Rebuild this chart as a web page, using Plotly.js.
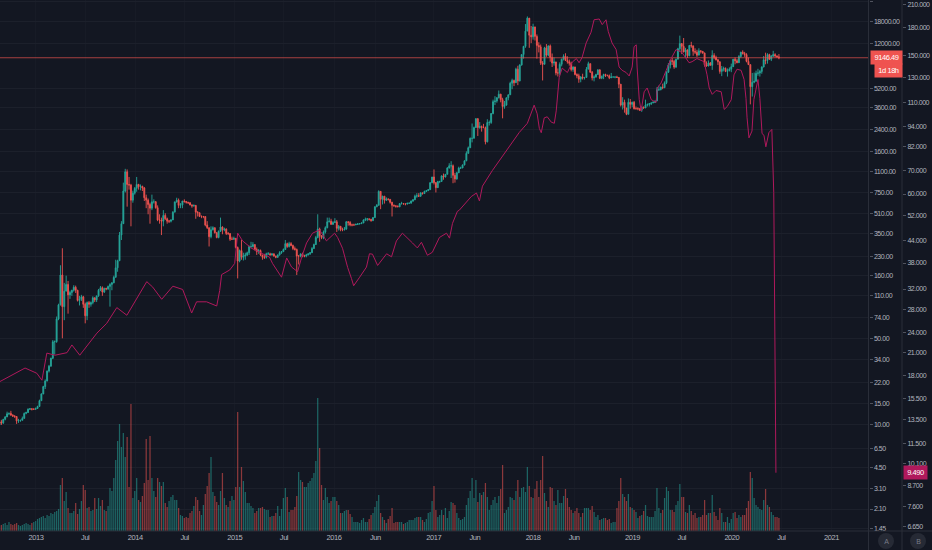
<!DOCTYPE html>
<html><head><meta charset="utf-8">
<script src="https://cdn.plot.ly/plotly-3.0.1.min.js"></script>
<style>
html,body{margin:0;padding:0;background:#131722;}
#chart{width:932px;height:550px;}
#chart .ytick text, #chart .y2tick text, #chart .y3tick text, #chart .xtick text, #chart .annotation text{letter-spacing:-0.45px;}
</style>
</head><body><div id="chart"></div>
<script>
// ---------- DATA (weekly BTC candles) ----------
const firstWeekUTC = Date.UTC(2012, 7, 20); // Monday 2012-08-20
const firstOpen = 10.0;

const closes = [
// 2012
10.6,10.4,11.1,11.6,12.3,12.4,12.0,11.8,11.7,10.8,10.9,10.9,11.3,12.4,12.6,13.4,13.5,13.4,13.4,13.6,
// 2013
14.1,15.7,17.8,20.4,22.6,27.2,29.8,34.5,46.9,47.0,71.5,93.0,162,90,120,136,112,117,122,129,
122,101,103,108,94,76,97,94,97,106,102,110,122,128,118,126,125,131,136,140,
155,185,211,340,420,770,1100,870,860,650,740,810,
// 2014
870,835,840,815,680,650,600,560,630,630,565,450,450,440,490,460,440,440,450,520,
630,650,590,595,640,635,625,620,595,585,590,520,515,480,480,480,410,390,330,375,
390,355,325,365,395,375,380,350,350,315,315,320,
// 2015
270,210,255,225,230,235,245,275,275,285,260,250,255,235,225,225,240,240,235,240,
230,225,235,245,250,260,290,275,290,280,265,260,230,230,240,230,230,235,240,245,
265,285,325,380,335,325,360,390,435,440,415,430,
// 2016
435,385,400,375,375,380,435,430,410,410,410,415,418,420,425,450,455,460,455,445,
470,575,590,765,660,700,650,665,660,625,590,585,580,575,610,610,605,605,615,615,
640,655,700,705,700,745,735,765,775,790,900,1000,
// 2017
900,820,920,920,1020,1000,1050,1180,1230,1230,1030,965,1080,1180,1180,1250,1350,1550,1720,2050,
2050,2500,2950,2500,2550,2500,2500,1920,2750,2750,3250,4050,4100,4350,4650,4200,3700,3800,4350,4600,
5700,6000,5750,7400,5950,8000,9700,11300,15000,19100,13900,13500,
// 2018
16200,13600,11500,11200,8300,8100,11000,9600,11400,9200,8300,8450,6900,6900,8100,8900,9400,8700,8500,8250,
7350,7700,6700,6550,6150,6400,6300,6350,7400,8200,7000,6300,6400,6700,7300,6250,6500,6700,6600,6550,
6300,6400,6400,6400,6350,5600,3800,4000,3600,3200,4000,3850,4000,
// 2019
3550,3550,3550,3450,3650,3600,3800,3850,3900,3950,3980,4100,5050,5050,5300,5250,5750,7000,8000,8700,
8550,7700,8900,10800,11900,11300,10200,10600,9500,11500,11400,10300,10150,9600,10400,10300,10000,8050,7850,8300,
7950,9550,9200,8800,8500,7100,7400,7500,7100,7200,7400,7750,
// 2020
8900,8650,8350,9350,10150,9900,9700,8550,8050,5350,5800,5900,6850,6900,7100,7700,8800,8700,9700,8900,
9450,9700,9450,9300,9146.49
];

const highs = [
// 2012
11.0,11.0,11.2,11.8,12.8,12.6,13.0,12.2,12.0,11.8,11.2,11.0,11.7,12.6,12.8,13.6,13.7,13.6,13.6,13.8,
// 2013
14.3,16.0,18.0,20.7,23.3,27.5,30.5,34.9,48.4,48.0,74.9,95.0,194,266,140,160,145,121,123,134,
133,123,110,112,110,97,99,100,99,109,107,110,125,132,131,128,128,133,139,142,
160,215,215,360,440,900,1163,1150,1000,880,775,830,
// 2014
1000,880,870,850,830,720,670,620,720,660,640,590,500,470,540,510,470,450,455,530,
630,680,670,615,640,660,640,630,625,600,600,590,530,515,490,485,480,440,390,400,
400,390,360,370,470,400,390,385,360,350,330,330,
// 2015
300,275,260,310,245,245,250,280,300,298,285,270,262,260,235,240,245,248,245,242,
241,232,237,252,251,265,310,295,300,298,285,275,265,235,240,245,236,240,242,248,
272,290,335,500,390,340,370,400,470,470,460,440,
// 2016
465,450,410,400,390,395,440,440,440,420,420,420,425,425,430,455,470,465,460,460,
475,580,605,780,770,705,700,685,670,660,630,600,590,590,615,630,615,610,615,620,
645,660,720,740,740,750,745,775,780,795,905,1000,
// 2017
1150,910,930,930,1030,1065,1055,1200,1290,1340,1260,1080,1100,1210,1210,1260,1360,1610,1760,2080,
2700,2550,2980,2980,2770,2600,2680,2550,2920,2850,3280,4200,4480,4400,4980,4680,4350,4100,4380,4620,
5860,6200,6100,7600,7880,8100,9750,11400,17100,19700,19000,16500,
// 2018
17200,16300,14100,12200,11700,8600,11200,11800,11500,11700,9900,9200,8500,7500,8400,9000,9750,9950,9400,8850,
8500,7800,7750,6850,6800,6500,6800,6400,7700,8500,8200,7150,6600,6800,7400,7400,6550,6800,6800,6680,
6700,6900,6450,6450,6550,6400,5600,4400,4200,3600,4300,4250,4050,
// 2019
4100,3700,3650,3600,3700,3700,4200,3900,3950,4000,4100,4150,5300,5450,5350,5650,5900,7100,8300,8800,
9100,8800,9000,11000,13800,12000,13200,11000,10600,11600,12300,11500,10900,10600,10900,10500,10350,10050,8550,8700,
8450,10500,9950,9500,8950,8400,7850,7750,7650,7500,7650,8200,
// 2020
8950,9200,8950,9600,10200,10500,10200,9950,9200,8100,6900,6950,7200,7450,7300,7800,9450,10050,9950,9850,
9600,10400,9950,9550,9800
];

const lows = [
// 2012
9.8,10.0,10.2,10.9,11.6,12.0,11.9,11.6,11.4,10.2,10.4,10.6,10.9,11.3,12.2,12.5,13.2,13.1,13.2,13.2,
// 2013
13.5,14.0,15.6,17.7,19.5,22.5,26.5,29.5,34.0,37.0,46.0,70.0,92,50,70,120,79,104,110,119,
116,99,92,100,88,66,70,88,90,94,98,98,108,120,110,116,122,123,90,122,
139,155,172,210,310,420,750,576,790,400,620,720,
// 2014
760,790,780,770,640,560,500,420,540,610,555,440,420,340,400,450,420,425,430,450,
520,620,560,560,560,620,610,605,590,565,575,460,480,475,465,465,400,380,275,320,
370,350,320,320,360,345,365,340,340,305,310,310,
// 2015
265,152,205,215,212,215,230,235,265,270,255,235,240,230,215,218,220,235,232,232,
228,221,222,232,240,248,258,268,270,276,257,255,162,197,225,225,225,225,233,235,
244,262,283,320,300,315,315,350,385,430,410,410,
// 2016
425,360,370,365,365,370,375,405,400,400,405,410,410,415,420,425,440,440,445,435,
440,470,570,590,550,600,610,640,645,610,480,575,565,570,570,600,600,590,600,605,
610,630,650,680,690,690,720,730,755,770,790,890,
// 2017
870,750,815,890,915,950,990,1050,1170,980,890,900,950,1080,1160,1180,1240,1340,1540,1720,
1900,2060,2480,2140,2450,2320,2480,1830,1900,2600,2680,3200,3800,3970,4300,4000,2970,3550,3750,4150,
4600,5100,5400,6100,5500,5900,7900,9000,11000,15000,11000,12000,
// 2018
12800,12600,9000,10100,8000,6000,8100,9300,9400,8500,7700,7900,6600,6450,6600,7800,8700,8600,8200,7900,
7100,7050,6600,6250,5750,5800,6100,6100,6300,7400,6900,6000,5900,6300,6650,6150,6150,6150,6400,6500,
6150,6300,6350,6250,6300,5200,3700,3500,3300,3150,3200,3550,3650,
// 2019
3500,3500,3450,3400,3350,3550,3600,3700,3700,3800,3950,3950,4100,4950,5000,5100,5200,5600,6900,7500,
8000,7450,7550,8900,10300,9800,10100,9100,9100,9400,11000,9500,9800,9300,9600,9900,9850,7750,7750,7800,
7900,7300,8900,8700,8000,6800,6500,7100,7000,6450,7100,7000,
// 2020
7700,8100,8250,8300,9150,9700,9300,8400,8000,3850,4450,5700,5900,6550,6450,6800,7650,8100,8200,8800,
8600,9250,9200,9150,8900
];

const volumes = [
5,6,7,8,6,9,7,6,7,8,6,5,6,7,8,7,6,8,9,10,
12,13,14,15,13,16,15,18,17,19,20,22,
46,53,30,39,23,18,18,20,28,17,22,30,46,41,23,24,20,21,33,22,33,25,31,21,20,25,
43,40,53,71,90,107,84,98,74,94,44,127,33,40,53,31,29,35,48,92,51,95,
53,40,34,53,49,45,49,28,24,30,34,36,31,31,23,16,15,13,14,13,
18,20,25,34,31,20,16,26,37,45,58,74,39,35,29,26,40,58,33,26,24,30,35,31,
44,119,44,64,50,39,28,28,25,23,18,20,23,23,24,22,21,21,14,15,15,18,25,15,22,33,43,34,19,21,21,24,35,59,
51,49,44,44,48,50,53,58,70,133,83,
46,31,43,34,28,30,34,34,30,26,18,18,20,21,21,17,14,9,9,9,8,11,13,9,9,12,16,18,24,30,
36,18,14,11,8,12,15,23,8,9,9,9,9,7,8,9,11,11,11,13,14,14,14,11,9,12,18,19,30,
45,21,14,16,21,16,23,13,20,29,28,26,18,13,11,12,14,26,33,40,53,33,51,29,38,36,39,48,34,21,
26,31,34,28,35,42,66,18,21,24,34,33,31,40,51,34,43,44,39,64,45,34,
33,42,50,34,51,75,38,30,24,44,43,30,26,41,28,28,35,42,33,24,21,18,20,23,18,14,18,23,23,23,
21,25,19,14,16,11,12,13,13,11,12,8,9,9,23,30,53,37,34,30,37,24,23,
21,19,13,15,16,20,26,15,14,14,14,20,43,23,18,21,33,44,40,21,21,19,26,30,47,34,34,19,18,26,
20,16,18,13,14,14,16,31,16,18,18,36,19,15,11,23,18,9,9,14,8,12,
18,19,13,16,14,16,16,23,30,59,53,33,26,24,22,21,31,42,26,24,19,16,14,14,13
];

// second symbol (axis B)
const lineDates = [
'2012-08-13','2012-11-22','2013-01-04','2013-01-23','2013-02-10','2013-03-12','2013-04-25','2013-05-13','2013-06-11','2013-07-11',
'2013-08-13','2013-09-18','2013-10-25','2013-12-01','2014-01-06','2014-02-12','2014-03-06','2014-04-08','2014-05-19','2014-06-24',
'2014-07-27','2014-08-14','2014-09-20','2014-10-27','2014-11-07','2014-11-14','2014-12-14','2015-01-01','2015-01-12','2015-01-30',
'2015-03-04','2015-05-09','2015-05-20','2015-06-22','2015-07-11','2015-07-29','2015-08-20','2015-09-04','2015-09-22','2015-10-14',
'2015-11-09','2015-12-04','2016-01-03','2016-01-14','2016-02-01','2016-02-09','2016-02-20','2016-03-05','2016-03-13','2016-04-04',
'2016-04-29','2016-05-10','2016-05-21','2016-06-09','2016-07-12','2016-07-30','2016-08-17','2016-09-08','2016-09-26','2016-10-15',
'2016-11-02','2016-11-17','2016-12-09','2016-12-27','2017-01-22','2017-02-17','2017-02-28','2017-03-11','2017-03-29','2017-04-05',
'2017-05-19','2017-06-07','2017-06-18','2017-06-29','2017-08-04','2017-09-10','2017-10-13','2017-11-11','2017-12-11','2017-12-25',
'2018-01-05','2018-01-16','2018-01-24','2018-01-31','2018-02-11','2018-02-22','2018-03-09','2018-03-20','2018-03-27','2018-04-07',
'2018-04-18','2018-05-07','2018-05-25','2018-06-09','2018-06-19','2018-06-30','2018-07-15','2018-08-02','2018-08-13','2018-09-01',
'2018-09-12','2018-09-26','2018-10-04','2018-10-18','2018-11-02','2018-11-13','2018-11-24','2018-12-09','2018-12-20','2018-12-31',
'2019-01-07','2019-01-15','2019-01-18','2019-01-26','2019-02-02','2019-02-13','2019-02-24','2019-03-11','2019-03-29','2019-04-02',
'2019-04-16','2019-05-05','2019-05-23','2019-06-10','2019-07-02','2019-07-28','2019-08-08','2019-08-26','2019-09-21','2019-10-02',
'2019-10-10','2019-10-21','2019-11-04','2019-11-23','2019-11-27','2019-12-04','2019-12-15','2019-12-30','2020-01-09','2020-01-20',
'2020-02-04','2020-02-15','2020-02-22','2020-02-26','2020-03-04','2020-03-15','2020-03-22','2020-03-30','2020-04-06','2020-04-13',
'2020-04-21','2020-04-28','2020-05-05','2020-05-16','2020-05-27','2020-06-03','2020-06-11'
];
const lineValues = [
17200,18970,18330,17500,20940,20650,21000,22100,20650,22100,
23900,25500,28300,26900,29900,33600,32400,29900,32600,31900,
27300,29400,29400,28600,31700,35200,36300,37900,46300,44000,
41900,39500,37900,34600,39300,37000,35900,39500,43400,46300,
47300,44000,46300,45000,41900,39500,36900,34300,32700,34600,
37000,40400,40300,37400,40400,39600,44000,46300,45000,43400,
42000,43600,40000,40800,45000,46300,44800,49400,53500,53900,
59000,60400,57300,63200,70000,77000,83600,90100,95800,102000,
108000,102000,92600,90000,99300,100000,96500,95800,104000,130000,
138000,134000,143600,147000,143000,148000,163000,175000,190000,191000,
184000,190000,176000,163000,156000,139000,136000,134000,131000,139000,
159000,161000,139000,112000,104000,118000,121000,112000,110000,121000,
125000,136000,147000,156000,153000,143000,144000,147000,144000,132000,
121000,116000,119000,118000,112000,105000,107000,112000,132000,137000,
136000,128000,113000,99300,87000,91000,112000,122000,128000,113000,
89500,88500,82000,90000,92000,60500,9490
];

const xTickDates = ['2013-01-01','2013-07-01','2014-01-01','2014-07-01','2015-01-01','2015-07-01','2016-01-01','2016-06-01',
  '2017-01-01','2017-06-01','2018-01-01','2018-06-01','2019-01-01','2019-07-01','2020-01-01','2020-07-01','2021-01-01'];
const xTickLabels = ['2013','Jul','2014','Jul','2015','Jul','2016','Jun','2017','Jun','2018','Jun','2019','Jul','2020','Jul','2021'];
const priceTicks = [1.45,2.1,3.1,4.5,6.5,10,15,22,34,50,74,110,160,230,350,510,750,1100,1600,2400,3600,5200,12000,18000,26000];
const indexTicks = [6650,7600,8700,10100,11500,13500,15500,18000,21000,24000,28000,32000,38000,44000,52000,60000,70000,82000,94000,110000,130000,150000,180000,210000];
const indexTickLabels = ['6.650','7.600','8.700','10.100','11.500','13.500','15.500','18.000','21.000','24.000','28.000','32.000','38.000','44.000','52.000','60.000','70.000','82.000','94.000','110.000','130.000','150.000','180.000','210.000'];
const countdownText = '1d 18h';
const xRange = ['2012-08-22','2021-05-17'];

// ---------- BUILD ----------
const dates = closes.map((_, i) => new Date(firstWeekUTC + i * 7 * 86400000).toISOString().slice(0, 10));
const opens = closes.map((c, i) => i === 0 ? firstOpen : closes[i - 1]);
const hi = highs.map((h, i) => Math.max(h, opens[i], closes[i]));
const lo = lows.map((l, i) => Math.min(l, opens[i], closes[i]));
const volColors = closes.map((c, i) => c >= opens[i] ? 'rgba(38,166,154,0.55)' : 'rgba(239,83,80,0.55)');
const lastPrice = closes[closes.length - 1];
const lastIndex = lineValues[lineValues.length - 1];

const FONT = 'Liberation Sans, Arial, sans-serif';
const TXT = '#b2b5be';
const SEP = '#2a2e39';
const W = 932, H = 550, PH = 531;
const xEnd = 868.5 / W;
const xB = 902 / W;

const traces = [
  { type: 'bar', x: dates, y: volumes, xaxis: 'x', yaxis: 'y',
    marker: { color: volColors, line: { width: 0 } }, width: 4.6 * 86400000, hoverinfo: 'skip' },
  { type: 'candlestick', x: dates, open: opens, high: hi, low: lo, close: closes, xaxis: 'x', yaxis: 'y2',
    increasing: { line: { color: '#26a69a', width: 0.9 }, fillcolor: '#26a69a' },
    decreasing: { line: { color: '#ef5350', width: 0.9 }, fillcolor: '#ef5350' },
    whiskerwidth: 0, hoverinfo: 'skip' },
  { type: 'scatter', mode: 'lines', x: xRange, y: [lastPrice, lastPrice], xaxis: 'x', yaxis: 'y2',
    line: { color: '#ef5350', width: 0.8 }, opacity: 0.85, hoverinfo: 'skip' },
  { type: 'scatter', mode: 'lines', x: lineDates, y: lineValues, xaxis: 'x', yaxis: 'y3',
    line: { color: '#b0195c', width: 1, shape: 'linear' }, hoverinfo: 'skip' }
];

const layout = {
  width: W, height: H,
  margin: { l: 0, r: 0, t: 0, b: H - PH, pad: 0 },
  paper_bgcolor: '#131722', plot_bgcolor: '#131722',
  showlegend: false, hovermode: false, boxgap: 0.3,
  font: { family: FONT, size: 7, color: TXT },
  xaxis: { type: 'date', domain: [0, xEnd], range: xRange, rangeslider: { visible: false },
    tickmode: 'array', tickvals: xTickDates, ticktext: xTickLabels, ticks: '',
    showgrid: true, gridcolor: '#171b26', gridwidth: 1, zeroline: false, showline: false,
    tickfont: { family: FONT, size: 7.5, color: TXT } },
  yaxis: { domain: [0, 1], range: [0, PH], visible: false, showgrid: false, zeroline: false },
  yaxis2: { overlaying: 'y', type: 'log', side: 'right', anchor: 'x',
    range: [0.145, 4.427], tickmode: 'array', tickvals: priceTicks, ticktext: priceTicks.map(v => v.toFixed(2)),
    ticks: 'outside', ticklen: 3, tickcolor: '#50535e', showline: false,
    showgrid: true, gridcolor: '#1c202b', gridwidth: 1, zeroline: false,
    tickfont: { family: FONT, size: 7, color: TXT } },
  yaxis3: { overlaying: 'y', type: 'log', side: 'right', anchor: 'free', position: xB,
    range: [3.8098, 5.3356], tickmode: 'array', tickvals: indexTicks, ticktext: indexTickLabels,
    ticks: 'outside', ticklen: 3, tickcolor: '#50535e', showline: false, showgrid: false, zeroline: false,
    tickfont: { family: FONT, size: 7, color: TXT } },
  shapes: [
    { type: 'line', xref: 'paper', yref: 'paper', x0: 0, x1: 1, y0: 0, y1: 0, line: { color: SEP, width: 1 } },
    { type: 'line', xref: 'paper', yref: 'paper', x0: xEnd, x1: xEnd, y0: -(H - PH) / PH, y1: 1, line: { color: SEP, width: 1 } },
    { type: 'line', xref: 'paper', yref: 'paper', x0: xB, x1: xB, y0: -(H - PH) / PH, y1: 1, line: { color: SEP, width: 1 } },
    { type: 'circle', xref: 'paper', yref: 'paper', x0: 878 / W, x1: 894 / W, y0: -18 / PH, y1: -2 / PH,
      fillcolor: '#262a35', line: { width: 0 } },
    { type: 'circle', xref: 'paper', yref: 'paper', x0: 910 / W, x1: 926 / W, y0: -18 / PH, y1: -2 / PH,
      fillcolor: '#262a35', line: { width: 0 } }
  ],
  annotations: [
    { xref: 'paper', yref: 'y2', x: 903 / W, y: Math.log10(lastPrice), xanchor: 'right', yanchor: 'middle',
      text: lastPrice.toFixed(2), showarrow: false, bgcolor: '#ef5350', borderpad: 2,
      font: { family: FONT, size: 7.5, color: '#ffffff' } },
    { xref: 'paper', yref: 'y2', x: 903 / W, y: Math.log10(lastPrice), yshift: -13, xanchor: 'right', yanchor: 'middle',
      text: countdownText, showarrow: false, bgcolor: '#ef5350', borderpad: 2,
      font: { family: FONT, size: 7.5, color: '#ffffff' } },
    { xref: 'paper', yref: 'y3', x: 903 / W, y: Math.log10(lastIndex), xanchor: 'left', yanchor: 'middle',
      text: (lastIndex / 1000).toFixed(3), showarrow: false, bgcolor: '#b0195c', borderpad: 2,
      font: { family: FONT, size: 7.5, color: '#ffffff' } },
    { xref: 'paper', yref: 'paper', x: 886 / W, y: -10 / PH, xanchor: 'center', yanchor: 'middle',
      text: 'A', showarrow: false, font: { family: FONT, size: 7, color: '#787b86' } },
    { xref: 'paper', yref: 'paper', x: 918 / W, y: -10 / PH, xanchor: 'center', yanchor: 'middle',
      text: 'B', showarrow: false, font: { family: FONT, size: 7, color: '#787b86' } }
  ]
};

Plotly.newPlot('chart', traces, layout, { staticPlot: true, displayModeBar: false });
</script>
</body></html>
